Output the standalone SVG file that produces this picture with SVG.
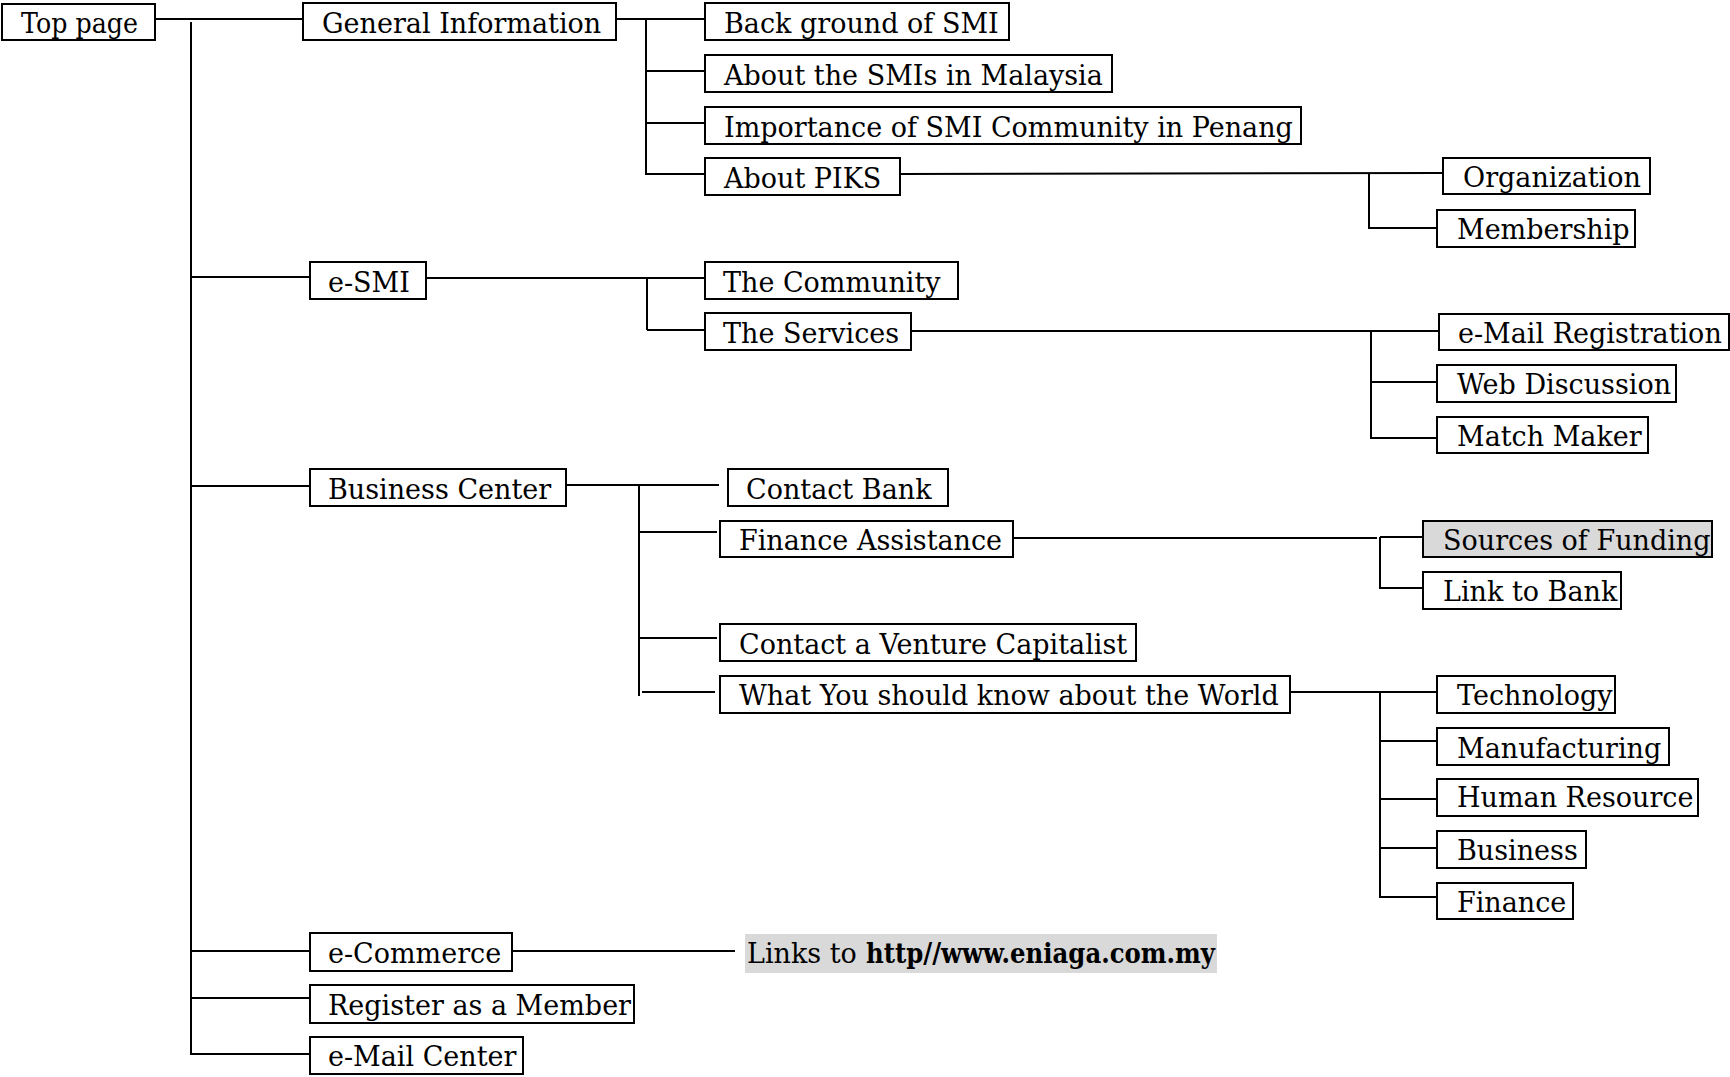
<svg xmlns="http://www.w3.org/2000/svg" width="1730" height="1077" viewBox="0 0 1730 1077">
<style>
  .box { fill: #ffffff; stroke: #000000; stroke-width: 2; }
  .hl { fill: #d9d9d9; stroke: #000000; stroke-width: 2; }
  .lbl { font-family: "DejaVu Serif", "Liberation Serif", serif; font-size: 27px; fill: #000000; }
  .bold { font-weight: bold; }
  .conn line { stroke: #000000; stroke-width: 2; }
</style>
<rect x="0" y="0" width="1730" height="1077" fill="#ffffff"/>
<g id="connectors" class="conn">
  <line x1="155" y1="19" x2="303" y2="19"/>
  <line x1="191" y1="22" x2="191" y2="1055"/>
  <line x1="191" y1="277" x2="310" y2="277"/>
  <line x1="191" y1="486" x2="310" y2="486"/>
  <line x1="191" y1="951" x2="310" y2="951"/>
  <line x1="191" y1="998" x2="310" y2="998"/>
  <line x1="190" y1="1054" x2="310" y2="1054"/>
  <line x1="616" y1="19" x2="705" y2="19"/>
  <line x1="646" y1="19" x2="646" y2="175"/>
  <line x1="646" y1="71" x2="705" y2="71"/>
  <line x1="646" y1="123" x2="705" y2="123"/>
  <line x1="646" y1="174" x2="705" y2="174"/>
  <line x1="900" y1="174" x2="1443" y2="173"/>
  <line x1="1369" y1="173" x2="1369" y2="229"/>
  <line x1="1369" y1="228" x2="1437" y2="228"/>
  <line x1="426" y1="278" x2="705" y2="278"/>
  <line x1="647" y1="278" x2="647" y2="330"/>
  <line x1="647" y1="330" x2="705" y2="330"/>
  <line x1="911" y1="331" x2="1439" y2="331"/>
  <line x1="1371" y1="331" x2="1371" y2="439"/>
  <line x1="1371" y1="382" x2="1437" y2="382"/>
  <line x1="1371" y1="438" x2="1437" y2="438"/>
  <line x1="566" y1="485" x2="719" y2="485"/>
  <line x1="639" y1="485" x2="639" y2="696"/>
  <line x1="639" y1="532" x2="717" y2="532"/>
  <line x1="639" y1="638" x2="717" y2="638"/>
  <line x1="642" y1="692" x2="715" y2="692"/>
  <line x1="1013" y1="538" x2="1377" y2="538"/>
  <line x1="1380" y1="537" x2="1380" y2="589"/>
  <line x1="1380" y1="537" x2="1423" y2="537"/>
  <line x1="1380" y1="588" x2="1423" y2="588"/>
  <line x1="1290" y1="692" x2="1439" y2="692"/>
  <line x1="1380" y1="692" x2="1380" y2="898"/>
  <line x1="1380" y1="741" x2="1437" y2="741"/>
  <line x1="1380" y1="799" x2="1437" y2="799"/>
  <line x1="1380" y1="848" x2="1437" y2="848"/>
  <line x1="1380" y1="897" x2="1437" y2="897"/>
  <line x1="512" y1="951" x2="735" y2="951"/>
</g>
<g id="n-top"><rect class="box" x="2" y="4" width="153" height="36"/><text class="lbl" x="21" y="33" textLength="117" lengthAdjust="spacingAndGlyphs">Top page</text></g>
<g id="n-general"><rect class="box" x="303" y="3" width="313" height="37"/><text class="lbl" x="322" y="33">General Information</text></g>
<g id="n-background"><rect class="box" x="705" y="3" width="304" height="37"/><text class="lbl" x="724" y="33">Back ground of SMI</text></g>
<g id="n-aboutsmi"><rect class="box" x="705" y="55" width="407" height="37"/><text class="lbl" x="724" y="85">About the SMIs in Malaysia</text></g>
<g id="n-importance"><rect class="box" x="705" y="107" width="596" height="37"/><text class="lbl" x="724" y="137">Importance of SMI Community in Penang</text></g>
<g id="n-piks"><rect class="box" x="705" y="158" width="195" height="37"/><text class="lbl" x="724" y="188">About PIKS</text></g>
<g id="n-organization"><rect class="box" x="1443" y="158" width="207" height="36"/><text class="lbl" x="1463" y="187">Organization</text></g>
<g id="n-membership"><rect class="box" x="1437" y="210" width="198" height="37"/><text class="lbl" x="1457" y="239">Membership</text></g>
<g id="n-esmi"><rect class="box" x="310" y="262" width="116" height="37"/><text class="lbl" x="328" y="292">e-SMI</text></g>
<g id="n-community"><rect class="box" x="705" y="262" width="253" height="37"/><text class="lbl" x="723" y="292">The Community</text></g>
<g id="n-services"><rect class="box" x="705" y="313" width="206" height="37"/><text class="lbl" x="723" y="343">The Services</text></g>
<g id="n-emailreg"><rect class="box" x="1439" y="314" width="290" height="36"/><text class="lbl" x="1458" y="343">e-Mail Registration</text></g>
<g id="n-webdisc"><rect class="box" x="1437" y="365" width="239" height="37"/><text class="lbl" x="1457" y="394">Web Discussion</text></g>
<g id="n-matchmaker"><rect class="box" x="1437" y="417" width="211" height="36"/><text class="lbl" x="1457" y="446">Match Maker</text></g>
<g id="n-business-center"><rect class="box" x="310" y="469" width="256" height="37"/><text class="lbl" x="328" y="499">Business Center</text></g>
<g id="n-contactbank"><rect class="box" x="728" y="469" width="220" height="37"/><text class="lbl" x="746" y="499">Contact Bank</text></g>
<g id="n-finance-assist"><rect class="box" x="720" y="521" width="293" height="36"/><text class="lbl" x="739" y="550">Finance Assistance</text></g>
<g id="n-sources"><rect class="hl" x="1423" y="521" width="289" height="36"/><text class="lbl" x="1443" y="550">Sources of Funding</text></g>
<g id="n-linkbank"><rect class="box" x="1423" y="572" width="198" height="37"/><text class="lbl" x="1443" y="601">Link to Bank</text></g>
<g id="n-venture"><rect class="box" x="720" y="624" width="416" height="37"/><text class="lbl" x="739" y="654">Contact a Venture Capitalist</text></g>
<g id="n-world"><rect class="box" x="720" y="676" width="570" height="37"/><text class="lbl" x="739" y="705">What You should know about the World</text></g>
<g id="n-technology"><rect class="box" x="1437" y="676" width="178" height="37"/><text class="lbl" x="1457" y="705">Technology</text></g>
<g id="n-manufacturing"><rect class="box" x="1437" y="728" width="232" height="37"/><text class="lbl" x="1457" y="758">Manufacturing</text></g>
<g id="n-human"><rect class="box" x="1437" y="779" width="261" height="37"/><text class="lbl" x="1457" y="807">Human Resource</text></g>
<g id="n-business"><rect class="box" x="1437" y="831" width="149" height="37"/><text class="lbl" x="1457" y="860">Business</text></g>
<g id="n-finance"><rect class="box" x="1437" y="883" width="136" height="36"/><text class="lbl" x="1457" y="912">Finance</text></g>
<g id="n-ecommerce"><rect class="box" x="310" y="933" width="202" height="38"/><text class="lbl" x="328" y="963">e-Commerce</text></g>
<g id="n-links"><rect x="745" y="934" width="472" height="39" fill="#d9d9d9"/><text class="lbl" x="747" y="963">Links to</text><text class="lbl bold" x="866" y="963" textLength="349" lengthAdjust="spacingAndGlyphs">http//www.eniaga.com.my</text></g>
<g id="n-register"><rect class="box" x="310" y="985" width="324" height="38"/><text class="lbl" x="328" y="1015">Register as a Member</text></g>
<g id="n-emailcenter"><rect class="box" x="310" y="1037" width="213" height="37"/><text class="lbl" x="328" y="1066">e-Mail Center</text></g>
</svg>
